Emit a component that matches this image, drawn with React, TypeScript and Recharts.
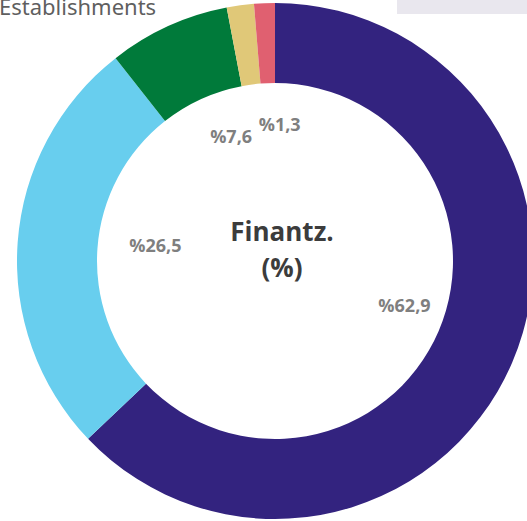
import React from "react";
import { PieChart, Pie, Cell } from "recharts";

const categories = ["A", "B", "C", "D", "E"];
const values = [62.9, 26.5, 7.6, 1.7, 1.3];
const labels = ["%62,9", "%26,5", "%7,6", "", "%1,3"];
const colors = ["#33237f", "#68ceee", "#007a3a", "#e0c878", "#e06070"];

const data = categories.map((c, i) => ({ name: c, value: values[i] }));

const RADIAN = Math.PI / 180;

const renderLabel = (props: any) => {
  const { cx, cy, midAngle, innerRadius, index } = props;
  const text = labels[index];
  if (!text) return null;
  const r = innerRadius - 48;
  const x = cx + 10 + r * Math.cos(-midAngle * RADIAN);
  const y = cy - 7 + r * Math.sin(-midAngle * RADIAN);
  return (
    <text
      x={x}
      y={y}
      fill="#7f7f7f"
      textAnchor="middle"
      dominantBaseline="central"
      fontFamily="'Open Sans', sans-serif"
      fontWeight={700}
      fontSize={18}
    >
      {text}
    </text>
  );
};

export default function App() {
  return (
    <div
      style={{
        position: "fixed",
        left: 0,
        top: 0,
        width: 527,
        height: 521,
        overflow: "hidden",
        background: "#ffffff",
      }}
    >
      <div
        style={{
          position: "absolute",
          left: 397,
          top: 0,
          width: 130,
          height: 14,
          background: "#e9e7ee",
        }}
      />
      <PieChart
        width={560}
        height={540}
        margin={{ top: 0, right: 0, bottom: 0, left: 0 }}
        style={{ position: "absolute", left: 0, top: 0 }}
      >
        <Pie
          data={data}
          dataKey="value"
          cx={275}
          cy={261}
          innerRadius={178}
          outerRadius={258}
          startAngle={90}
          endAngle={-270}
          stroke="none"
          isAnimationActive={false}
          label={renderLabel}
          labelLine={false}
        >
          {data.map((d, i) => (
            <Cell key={d.name} fill={colors[i]} />
          ))}
        </Pie>
        <text
          x={282}
          y={241}
          textAnchor="middle"
          fill="#3c3c3c"
          fontFamily="'Open Sans', sans-serif"
          fontWeight={700}
          fontSize={26}
        >
          Finantz.
        </text>
        <text
          x={282}
          y={277}
          textAnchor="middle"
          fill="#3c3c3c"
          fontFamily="'Open Sans', sans-serif"
          fontWeight={700}
          fontSize={26}
        >
          (%)
        </text>
      </PieChart>
      <svg
        width={300}
        height={22}
        style={{ position: "absolute", left: 0, top: 0 }}
      >
        <text
          x={-1}
          y={15}
          fill="#5f5f5f"
          fontFamily="'Noto Sans', sans-serif"
          fontSize={22}
        >
          Establishments
        </text>
      </svg>
    </div>
  );
}
